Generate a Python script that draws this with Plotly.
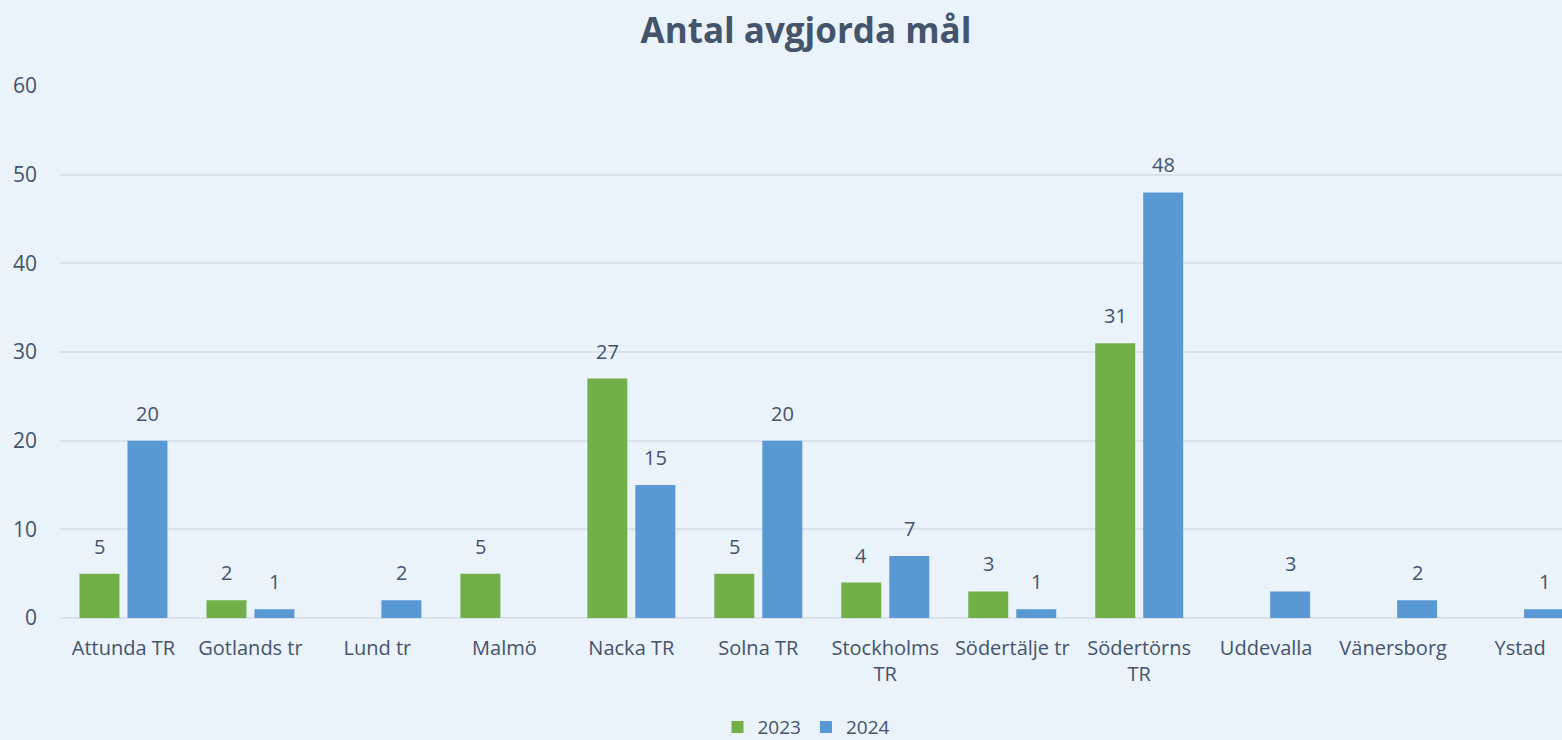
import plotly.graph_objects as go

categories = ["Attunda TR", "Gotlands tr", "Lund tr", "Malmö", "Nacka TR", "Solna TR",
              "Stockholms<br>TR", "Södertälje tr", "Södertörns<br>TR", "Uddevalla",
              "Vänersborg", "Ystad"]
values_2023 = [5, 2, None, 5, 27, 5, 4, 3, 31, None, None, None]
values_2024 = [20, 1, 2, None, 15, 20, 7, 1, 48, 3, 2, 1]
y_ticks = [0, 10, 20, 30, 40, 50, 60]

text_color = "#44546A"
font_family = "Open Sans, Liberation Sans, sans-serif"

fig = go.Figure()
fig.add_trace(go.Bar(
    name="2023", x=categories, y=values_2023,
    marker=dict(color="#72AF48", line=dict(width=0)),
))
fig.add_trace(go.Bar(
    name="2024", x=categories, y=values_2024,
    marker=dict(color="#5A98D4", line=dict(width=0)),
))

# data labels above bars (offset left/right to sit over each bar of the group)
for series, shift in ((values_2023, -24), (values_2024, 24)):
    for cat, v in zip(categories, series):
        if v is None:
            continue
        fig.add_annotation(x=cat, y=v, text=str(v), showarrow=False,
                           xshift=shift, yshift=12, yanchor="bottom",
                           font=dict(size=20, color=text_color, family=font_family))

fig.update_layout(
    width=1562, height=740,
    paper_bgcolor="#EAF2FA", plot_bgcolor="#EAF2FA",
    margin=dict(l=60, r=0, t=86, b=122, autoexpand=False),
    title=dict(text="<b>Antal avgjorda mål</b>", x=0.516, xanchor="center",
               y=0.958, yanchor="middle",
               font=dict(size=35, color=text_color, family=font_family)),
    font=dict(family=font_family, size=20, color=text_color),
    barmode="group", bargap=0.244, bargroupgap=0.167,
    showlegend=True,
    legend=dict(orientation="h", x=0.497, xanchor="center", y=-0.205, yanchor="middle",
                font=dict(size=19, color=text_color), itemwidth=30,
                traceorder="normal"),
    xaxis=dict(range=[-0.5, 11.33], showgrid=False, showline=False, zeroline=False,
               tickfont=dict(size=20, color=text_color), ticks="", automargin=False,
               ticklabelstandoff=16),
    yaxis=dict(range=[0, 60], tickvals=y_ticks, showgrid=True, gridcolor="#D9E2EC",
               gridwidth=1.5, zeroline=True, zerolinecolor="#D9E2EC", zerolinewidth=1.5,
               showline=False, ticks="", ticklabelstandoff=22, automargin=False,
               tickfont=dict(size=21, color=text_color)),
)

fig.write_html("out.html", config={"displayModeBar": False},
               post_script="document.body.style.margin='0';document.body.style.overflow='hidden';")
